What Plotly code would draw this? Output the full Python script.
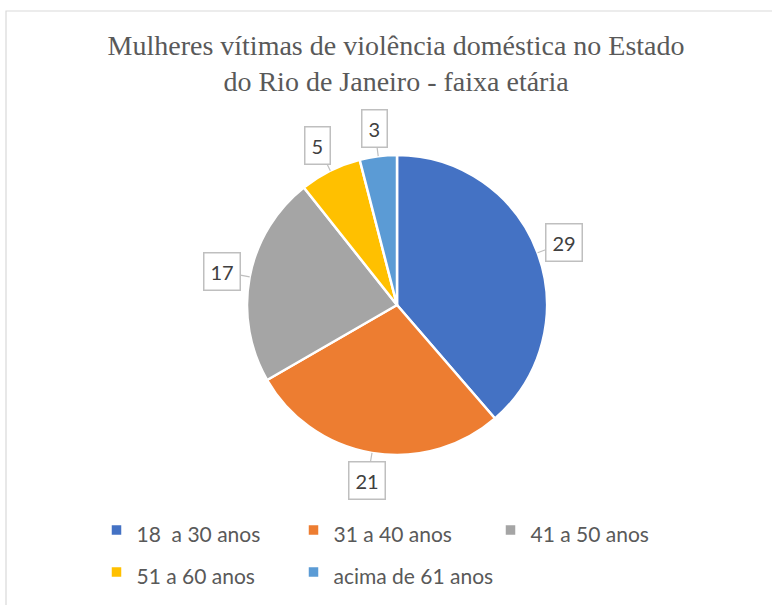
import math
import plotly.graph_objects as go

categories = ["18 \u00a0a 30 anos", "31 a 40 anos", "41 a 50 anos", "51 a 60 anos", "acima de 61 anos"]
values = [29, 21, 17, 5, 3]
colors = ["#4472C4", "#ED7D31", "#A5A5A5", "#FFC000", "#5B9BD5"]
title_text = "Mulheres vítimas de violência doméstica no Estado<br>do Rio de Janeiro - faixa etária"

W, H = 772, 605
CX, CY, R = 397, 305, 150  # pie center / radius in px
LABEL_R = 178
POINT_R = 150

fig = go.Figure()
fig.add_trace(go.Pie(
    labels=[f'<span style="font-size:21px">{c}</span>' for c in categories],
    values=values,
    marker=dict(colors=colors, line=dict(color="white", width=2.5)),
    sort=False,
    direction="clockwise",
    rotation=0,
    textinfo="none",
    domain=dict(x=[(CX - R) / W, (CX + R) / W], y=[1 - (CY + R) / H, 1 - (CY - R) / H]),
))

total = sum(values)
cum = 0
annotations = []
for v in values:
    mid = (cum + v / 2) / total * 2 * math.pi
    cum += v
    px = CX + POINT_R * math.sin(mid)
    py = CY - POINT_R * math.cos(mid)
    lx = CX + LABEL_R * math.sin(mid)
    ly = CY - LABEL_R * math.cos(mid)
    annotations.append(dict(
        x=px / W, y=1 - py / H, xref="paper", yref="paper",
        ax=lx - px, ay=ly - py, axref="pixel", ayref="pixel",
        text=str(v), showarrow=True, arrowhead=0, arrowwidth=1.2, arrowcolor="#BFBFBF",
        font=dict(family="Lato", size=20, color="#404040"),
        bordercolor="#BFBFBF", borderwidth=1.5, borderpad=6, bgcolor="white",
    ))

fig.update_layout(
    width=W, height=H,
    margin=dict(l=0, r=0, t=0, b=0),
    paper_bgcolor="white",
    title=dict(text=title_text, x=0.513, xanchor="center", y=1 - 55 / H, yanchor="middle",
               yref="container",
               font=dict(family="Liberation Serif", size=28, color="#595959")),
    showlegend=True,
    legend=dict(orientation="h", x=392 / W, xanchor="center", y=1 - 504 / H, yanchor="top",
                entrywidth=152, entrywidthmode="pixels", bgcolor="rgba(0,0,0,0)",
                font=dict(family="Lato", size=30, color="#595959"),
                traceorder="normal"),
    annotations=annotations,
    shapes=[dict(type="rect", xref="paper", yref="paper",
                 x0=6 / W, x1=1.05, y0=-0.05, y1=1 - 11 / H,
                 line=dict(color="#D9D9D9", width=1.2), layer="below")],
)

fig.write_html("out.html")
